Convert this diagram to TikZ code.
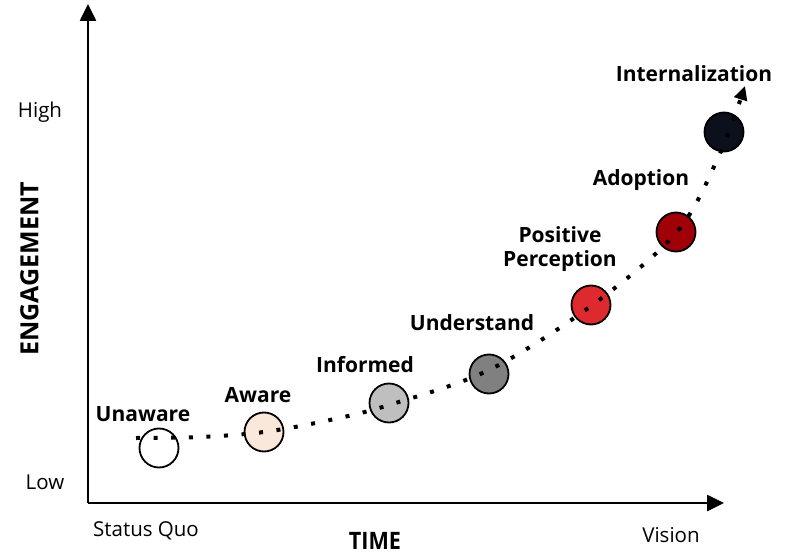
\documentclass[tikz,border=0pt]{standalone}
\usepackage{fontspec}
\setmainfont{Open Sans}
\newfontfamily\narrowbold[FakeStretch=0.9]{Open Sans}
\usetikzlibrary{arrows.meta}
\definecolor{peach}{HTML}{FCE8DA}
\definecolor{lightgrey}{HTML}{BFBFBF}
\definecolor{midgrey}{HTML}{808080}
\definecolor{brightred}{HTML}{DE2A2F}
\definecolor{darkred}{HTML}{A00008}
\definecolor{nearblack}{HTML}{0B101C}
\tikzset{
  axis/.style={line width=2.6pt, -{Triangle[length=17pt,width=16pt]}},
  stage/.style={circle, draw=black, line width=1.8pt, minimum size=39pt, inner sep=0pt},
  stagelabel/.style={font=\fontsize{21}{24}\selectfont\bfseries, align=center, inner sep=0pt},
  ticklabel/.style={font=\fontsize{20.5}{24}\selectfont, inner sep=0pt},
  axislabel/.style={font=\fontsize{25}{28}\selectfont\bfseries, inner sep=0pt},
  timelabel/.style={font=\narrowbold\fontsize{24}{28}\selectfont\bfseries, inner sep=0pt},
  path dots/.style={line width=4pt, dash pattern=on 4pt off 13.6pt,
    -{Triangle[length=14pt,width=13pt]}}
}
\begin{document}
\begin{tikzpicture}[x=1pt,y=-1pt]
\useasboundingbox (0,0) rectangle (792,556);

% axes
\coordinate (origin) at (88,503);
\coordinate (ytop) at (88,4);
\coordinate (xend) at (724,503);
\draw[axis] (origin) -- (ytop);
\draw[axis] (origin) -- (xend);

\node[ticklabel] (high) at (40,112) {High};
\node[ticklabel] (low) at (45,482) {Low};
\node[ticklabel] (statusquo) at (146,531) {Status Quo};
\node[ticklabel] (vision) at (671,535) {Vision};
\node[axislabel, rotate=90] (engagement) at (29.5,269) {ENGAGEMENT};
\node[timelabel, anchor=base] (time) at (375,549) {TIME};

% stages
\node[stage, fill=white] (unaware) at (159,448) {};
\node[stage, fill=peach] (aware) at (264,432) {};
\node[stage, fill=lightgrey] (informed) at (389,403) {};
\node[stage, fill=midgrey] (understand) at (489,374) {};
\node[stage, fill=brightred] (positive) at (591,305) {};
\node[stage, fill=darkred] (adoption) at (676,232) {};
\node[stage, fill=nearblack] (internal) at (724,132) {};

\node[stagelabel] (l-unaware) at (143,414) {Unaware};
\node[stagelabel] (l-aware) at (258,395) {Aware};
\node[stagelabel] (l-informed) at (365,365) {Informed};
\node[stagelabel] (l-understand) at (472,323) {Understand};
\node[stagelabel] (l-positive) at (560,249) {Positive\\Perception};
\node[stagelabel] (l-adoption) at (641,180) {Adoption};
\node[stagelabel] (l-internal) at (694,74) {Internalization};

% growth path
\coordinate (p0) at (136,438);
\coordinate (p1) at (200,437);
\coordinate (p2) at (264,432);
\coordinate (p3) at (330,420);
\coordinate (p4) at (389,405);
\coordinate (p5) at (489,370);
\coordinate (p6) at (591,306);
\coordinate (p7) at (676,233);
\coordinate (p8) at (718,158);
\coordinate (p9) at (745,86);
\draw[path dots] plot[smooth, tension=0.55] coordinates {(p0) (p1) (p2) (p3) (p4) (p5) (p6) (p7) (p8) (p9)};
\end{tikzpicture}
\end{document}
